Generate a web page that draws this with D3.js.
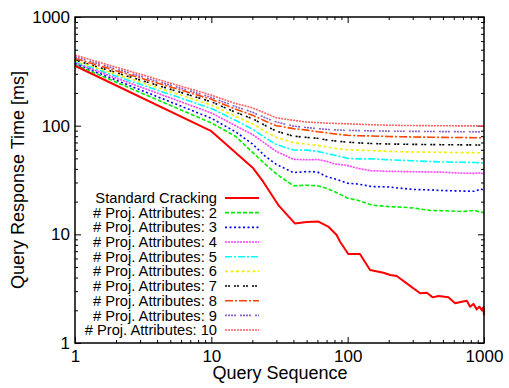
<!DOCTYPE html>
<html>
<head>
<meta charset="utf-8">
<script src="https://cdn.jsdelivr.net/npm/d3@7/dist/d3.min.js"></script>
<style>
  html, body { margin: 0; padding: 0; background: #fff; }
  svg { display: block; font-family: "Liberation Sans", Arial, Helvetica, sans-serif; }
</style>
</head>
<body>
<svg id="chart" width="509" height="388"></svg>
<script>
// Query sequence positions sampled for the projection runs
const queryX = [1, 10, 15, 20, 25, 30, 40, 50, 60, 70, 80, 100, 120, 150, 200, 250, 300, 400, 500, 700, 850, 950, 1000];

// Standard cracking (per-query response times, ms)
const crackX  = [1, 10, 20.3, 24, 31, 41, 50, 61, 72, 83, 88, 101, 123, 146, 183, 205, 229, 271, 340, 381, 421, 463, 548, 614, 687, 748, 791, 836, 885, 925, 963, 990, 1000];
const crackMs = [356, 89, 40.5, 30.5, 18.6, 12.6, 13.0, 13.1, 11.8, 9.85, 8.55, 6.59, 6.6, 4.69, 4.43, 4.22, 4.13, 3.54, 2.87, 2.9, 2.63, 2.71, 2.63, 2.32, 2.4, 2.45, 2.16, 2.29, 2.04, 2.16, 2.01, 2.13, 1.8];

// Response times (ms) for increasing numbers of projected attributes
const proj2  = [365, 106, 80, 57, 44, 36, 28, 28.3, 28, 26.5, 24.8, 21.5, 20.5, 18.6, 18, 17.8, 17.5, 16.6, 16.5, 16.2, 16.6, 16.0, 15.8];
const proj3  = [371, 117, 88, 68, 52, 44, 37, 37.8, 37.5, 34, 32.5, 29.5, 29, 27.5, 27.3, 26.5, 25.9, 25.6, 25.3, 25.0, 24.9, 26.2, 25.3];
const proj4  = [377, 131, 100, 83, 68, 58, 49, 48.5, 48.8, 47, 44.5, 43, 40.3, 38.5, 38, 37.8, 37.7, 37.5, 37.3, 36.5, 36.4, 36.8, 35.9];
const proj5  = [384, 144, 112, 93, 77, 67, 59.7, 59.5, 58, 55.5, 53.5, 50, 49.5, 49.5, 48.5, 48, 47.5, 46.8, 46.3, 46, 45.8, 45.5, 45.5];
const proj6  = [393, 155, 122, 104, 88, 78, 70, 67.5, 66, 64, 62, 60, 59.5, 59, 58, 57.5, 57.3, 57, 56.8, 56.5, 56.4, 56.3, 56.3];
const proj7  = [401, 166, 133, 116, 100, 89, 80, 78, 76.5, 74, 72.5, 70.5, 69.5, 68.5, 67.8, 67.5, 67.3, 67, 66.8, 66.6, 66.5, 66.4, 66.3];
const proj8  = [416, 175, 142, 125, 110, 100, 94, 91, 88, 86, 84, 81.5, 80.8, 80.4, 79.5, 79, 78.7, 78.3, 78, 77.7, 77.5, 77.4, 77.4];
const proj9  = [430, 182, 150, 133, 118, 108, 99, 96, 94, 92.5, 91.5, 90.5, 90, 89.5, 89, 88.8, 88.6, 88.4, 88.2, 88, 87.8, 87.6, 87.5];
const proj10 = [446, 191, 160, 146, 130, 118, 112, 108, 106.5, 105.5, 105, 104, 103, 102, 101, 100.5, 100.3, 100, 99.8, 99.6, 99.5, 99.5, 99.5];

const seriesNames = [
  "Standard Cracking",
  "# Proj. Attributes: 2", "# Proj. Attributes: 3", "# Proj. Attributes: 4",
  "# Proj. Attributes: 5", "# Proj. Attributes: 6", "# Proj. Attributes: 7",
  "# Proj. Attributes: 8", "# Proj. Attributes: 9", "# Proj. Attributes: 10"
];

const yTickValues = [1, 10, 100, 1000];
const xTickValues = [1, 10, 100, 1000];

// Line appearance per series
const seriesStyles = [
  { color: "#ff0000", width: 2.0, dash: null },
  { color: "#00ee00", width: 1.6, dash: "4,2" },
  { color: "#0000ff", width: 1.6, dash: "2,2.5" },
  { color: "#ff40ff", width: 1.6, dash: "2,1" },
  { color: "#00ffff", width: 1.6, dash: "7,2,2,2" },
  { color: "#f0f000", width: 1.6, dash: "3,2.5" },
  { color: "#000000", width: 1.6, dash: "2,1,2,4" },
  { color: "#ff4500", width: 1.6, dash: "8,2,2,2" },
  { color: "#8a60c8", width: 1.6, dash: "2,1,2,1,2,1,2,4" },
  { color: "#ff6060", width: 1.6, dash: "2,1" }
];

const series = [
  { xs: crackX, ys: crackMs },
  ...[proj2, proj3, proj4, proj5, proj6, proj7, proj8, proj9, proj10].map(ys => ({ xs: queryX, ys }))
];

const svg = d3.select("#chart");
const plot = { left: 75, right: 484, top: 17, bottom: 343 };

const x = d3.scaleLog().domain([1, 1000]).range([plot.left, plot.right]);
const y = d3.scaleLog().domain([1, 1000]).range([plot.bottom, plot.top]);

// minor tick positions: 2..9 within each decade
const minorX = [], minorY = [];
[1, 10, 100].forEach(d => { for (let k = 2; k <= 9; k++) { minorX.push(d * k); minorY.push(d * k); } });

function drawAxis(gen, tx, ty, values, size, labels, pad) {
  const g = svg.append("g").attr("transform", `translate(${tx},${ty})`)
    .call(gen.tickValues(values).tickSizeInner(size).tickSizeOuter(0).tickPadding(pad)
      .tickFormat(labels ? d3.format("d") : () => ""));
  g.select(".domain").remove();
  g.selectAll(".tick line").attr("stroke", "#000").attr("stroke-width", 1);
  g.selectAll(".tick text").attr("fill", "#000").attr("font-size", 17);
  return g;
}

// bottom / left with labels, top / right mirrored
drawAxis(d3.axisBottom(x), 0, plot.bottom, xTickValues, -6, true, 7);
drawAxis(d3.axisBottom(x), 0, plot.bottom, minorX, -3, false, 0);
drawAxis(d3.axisTop(x), 0, plot.top, xTickValues, -6, false, 0);
drawAxis(d3.axisTop(x), 0, plot.top, minorX, -3, false, 0);
drawAxis(d3.axisLeft(y), plot.left, 0, yTickValues, -6, true, 5);
drawAxis(d3.axisLeft(y), plot.left, 0, minorY, -3, false, 0);
drawAxis(d3.axisRight(y), plot.right, 0, yTickValues, -6, false, 0);
drawAxis(d3.axisRight(y), plot.right, 0, minorY, -3, false, 0);

// series lines (drawn back to front so the cracking line sits on top)
const line = d3.line().x(d => x(d[0])).y(d => y(d[1]));
const linesG = svg.append("g");
series.slice().reverse().forEach((s, ri) => {
  const i = series.length - 1 - ri;
  const st = seriesStyles[i];
  linesG.append("path")
    .datum(s.xs.map((v, j) => [v, s.ys[j]]))
    .attr("d", line)
    .attr("fill", "none")
    .attr("stroke", st.color)
    .attr("stroke-width", st.width)
    .attr("stroke-dasharray", st.dash)
    .attr("stroke-linejoin", "round");
});

// plot border
svg.append("rect")
  .attr("x", plot.left).attr("y", plot.top)
  .attr("width", plot.right - plot.left).attr("height", plot.bottom - plot.top)
  .attr("fill", "none").attr("stroke", "#000").attr("stroke-width", 1.5);

// legend
const legend = svg.append("g");
seriesNames.forEach((name, i) => {
  const ly = 198 + i * 14.67;
  legend.append("text")
    .attr("x", 217).attr("y", ly).attr("dy", "0.35em")
    .attr("text-anchor", "end").attr("font-size", 14.7).attr("fill", "#000")
    .text(name);
  const st = seriesStyles[i];
  legend.append("line")
    .attr("x1", 225).attr("x2", 259).attr("y1", ly).attr("y2", ly)
    .attr("stroke", st.color).attr("stroke-width", st.width)
    .attr("stroke-dasharray", st.dash);
});

// axis titles
svg.append("text")
  .attr("x", 280).attr("y", 379)
  .attr("text-anchor", "middle").attr("font-size", 18).attr("fill", "#000")
  .text("Query Sequence");
svg.append("text")
  .attr("transform", "translate(24,180) rotate(-90)")
  .attr("text-anchor", "middle").attr("font-size", 18).attr("fill", "#000")
  .text("Query Response Time [ms]");
</script>
</body>
</html>
